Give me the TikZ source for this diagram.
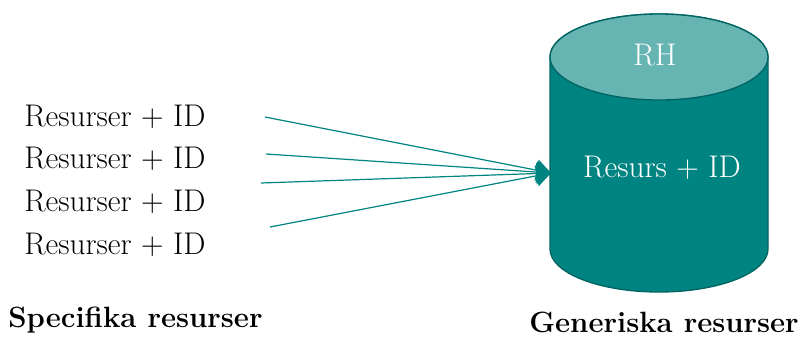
\documentclass[tikz,border=0pt]{standalone}
\usepackage{xcolor}
\usepackage{tikz}
\usetikzlibrary{arrows.meta}

\definecolor{tealbody}{HTML}{008482}
\definecolor{tealtop}{HTML}{66B5B3}
\definecolor{tealedge}{HTML}{006463}

\begin{document}
\begin{tikzpicture}[x=0.75pt, y=-0.75pt]
  \useasboundingbox (0,0) rectangle (803,336);
  \tikzset{
    item/.style={anchor=west, inner sep=0pt, font=\fontsize{23.5}{28}\selectfont},
    caption/.style={inner sep=0pt, font=\fontsize{22}{27}\selectfont\bfseries},
    inside/.style={text=white, inner sep=0pt, font=\fontsize{23.5}{28}\selectfont},
    feed/.style={draw=tealbody, line width=0.9pt, -{Triangle[length=11pt, width=16pt]}}
  }

  % Draw the cylinder
  \fill[tealbody, draw=tealedge, line width=1pt]
    (550,57) -- (550,249) arc[start angle=180, end angle=0, x radius=109, y radius=43]
    -- (768,57) arc[start angle=0, end angle=-180, x radius=109, y radius=43] -- cycle;
  \draw[fill=tealtop, draw=tealedge, line width=1pt] (659,57) ellipse[x radius=109, y radius=43];

  % Draw nodes
  \node[inside] (RH) at (655,55) {RH};
  \node[inside] (G) at (662,168) {Resurs + ID};
  \node[item] (S1) at (24,117) {Resurser + ID};
  \node[item] (S2) at (24,159) {Resurser + ID};
  \node[item] (S3) at (24,202) {Resurser + ID};
  \node[item] (S4) at (24,245) {Resurser + ID};
  \node[caption, anchor=west] (SL) at (8,320) {Specifika resurser};
  \node[caption, anchor=east] (GL) at (799,322) {Generiska resurser};

  % Arrow ends
  \coordinate (a1) at (265,117);
  \coordinate (a2) at (266,154);
  \coordinate (a3) at (261,183);
  \coordinate (a4) at (270,227);
  \coordinate (T) at (551,173);

  % Draw edges
  \draw[feed] (a1) -- (T);
  \draw[feed] (a2) -- (T);
  \draw[feed] (a3) -- (T);
  \draw[feed] (a4) -- (T);
\end{tikzpicture}
\end{document}
